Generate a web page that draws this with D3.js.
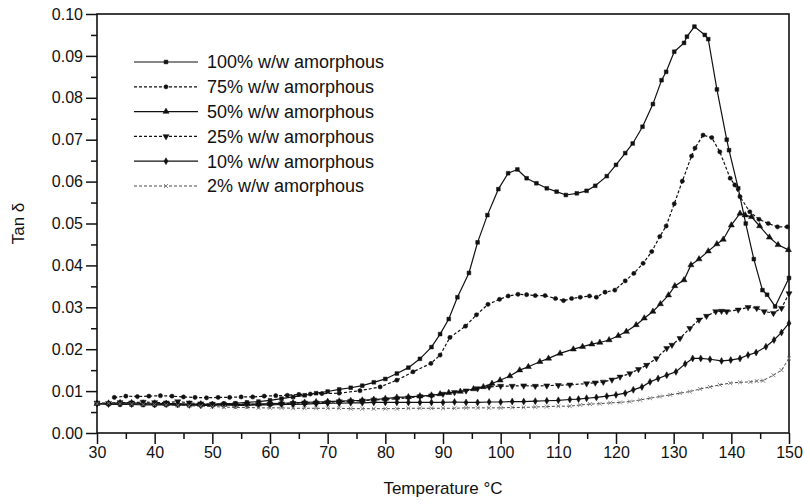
<!DOCTYPE html>
<html>
<head>
<meta charset="utf-8">
<script src="https://cdn.jsdelivr.net/npm/d3@7"></script>
<style>
    body { margin: 0; background: #fff; }
    svg text { font-family: "Liberation Sans", Arial, sans-serif; fill: #111; }
</style>
</head>
<body>
<div id="chart"></div>
<script>
// [temperature °C, tan delta]
const s100 = [[30,0.0070],[32,0.0069],[34,0.0068],[36,0.0068],[38,0.0067],[40,0.0067],[42,0.0067],[44,0.0067],[46,0.0067],[48,0.0068],[50,0.0069],[52,0.0070],[54,0.0071],[56,0.0073],[58,0.0075],[60,0.0078],[62,0.0082],[64,0.0086],[66,0.0090],[68,0.0095],[70,0.0099],[72,0.0104],[74,0.0108],[76,0.0113],[78,0.0121],[80,0.0129],[82,0.0142],[84,0.0156],[86,0.0177],[88,0.0205],[89.5,0.0236],[91,0.0272],[92.5,0.0324],[94.5,0.0382],[96,0.0455],[97.7,0.052],[99.6,0.0582],[101.3,0.062],[102.9,0.0629],[104.5,0.0608],[106.2,0.0596],[108,0.0584],[109.7,0.0576],[111.3,0.0568],[113.2,0.0572],[114.9,0.0578],[116.4,0.059],[118.4,0.0613],[120,0.064],[121.6,0.0668],[122.9,0.0691],[124.6,0.0731],[126.4,0.0785],[127.9,0.0842],[128.7,0.0862],[130.1,0.091],[131.8,0.0931],[132.3,0.0946],[133.6,0.097],[135.4,0.095],[136,0.094],[137.5,0.082],[139.2,0.070],[139.6,0.0675],[141.2,0.0584],[142.5,0.050],[143.9,0.0415],[145.4,0.0341],[146.2,0.033],[147.6,0.0302],[150,0.037]];
const s75 = [[33,0.0085],[35,0.0088],[37,0.0087],[39,0.0088],[41,0.0089],[43,0.0088],[45,0.0086],[47,0.0085],[49,0.0084],[51,0.0085],[53,0.0085],[55,0.0086],[57,0.0086],[59,0.0088],[61,0.0089],[63,0.0090],[65,0.0092],[67,0.0093],[69,0.0094],[72,0.0095],[75.6,0.0101],[79.1,0.0110],[82,0.0126],[84.8,0.0146],[87.9,0.0166],[89.5,0.0186],[91.2,0.0228],[93.9,0.0255],[95.8,0.0282],[97.8,0.0307],[99.8,0.0319],[101.3,0.0327],[103,0.0331],[104.5,0.0330],[106,0.0328],[107.7,0.0328],[109.5,0.0321],[110.9,0.0316],[112.3,0.0321],[113.8,0.0324],[115.4,0.0327],[116.6,0.0324],[118.1,0.0336],[119.8,0.0341],[121.6,0.0363],[123.1,0.0381],[124.7,0.0405],[126.2,0.0433],[127.6,0.0469],[128.7,0.0494],[130.1,0.0547],[131.5,0.0601],[133.1,0.0661],[133.7,0.068],[135.1,0.0711],[136.6,0.0705],[138,0.0671],[139.8,0.0608],[140.6,0.0592],[141.5,0.0564],[143.2,0.0528],[144.8,0.051],[146.4,0.050],[148,0.0492],[149.7,0.0492]];
const s50 = [[30,0.0070],[32,0.0071],[34,0.0072],[36,0.0072],[38,0.0071],[40,0.0071],[42,0.0070],[44,0.0070],[46,0.0069],[48,0.0069],[50,0.0068],[52,0.0068],[54,0.0068],[56,0.0069],[58,0.0069],[60,0.0070],[62,0.0071],[64,0.0072],[66,0.0073],[68,0.0074],[70,0.0075],[72,0.0076],[74,0.0077],[76,0.0078],[78,0.0080],[80,0.0082],[82,0.0085],[84,0.0086],[86,0.0088],[88,0.0090],[89.5,0.0093],[91,0.0096],[93,0.0099],[95.3,0.0105],[97,0.0110],[98.5,0.0118],[99.9,0.0126],[101.6,0.0136],[103.3,0.0150],[104.8,0.0158],[106.8,0.0170],[108.3,0.0178],[110.3,0.0190],[112.6,0.0200],[114.2,0.0206],[115.8,0.0212],[117.2,0.0216],[118.8,0.0222],[120.4,0.0232],[121.8,0.0242],[123.5,0.0258],[124.9,0.0274],[126.4,0.0290],[127.7,0.0308],[129.1,0.0329],[130.2,0.0351],[131.8,0.0365],[133,0.0401],[134.4,0.0415],[136,0.0434],[137.5,0.0451],[138.6,0.0462],[140,0.0496],[141.5,0.0524],[142.4,0.0520],[143.5,0.0516],[144.9,0.0494],[146.6,0.0467],[148.1,0.0449],[149.9,0.0437]];
const s25 = [[30,0.0072],[32,0.0071],[34,0.0073],[36,0.0072],[38,0.0074],[40,0.0073],[42,0.0072],[44,0.0075],[46,0.0072],[48,0.0070],[50,0.0069],[52,0.0068],[54,0.0068],[56,0.0069],[58,0.0068],[60,0.0069],[62,0.0070],[64,0.0071],[66,0.0072],[68,0.0072],[70,0.0073],[72,0.0075],[74,0.0076],[76,0.0077],[78,0.0079],[80,0.0080],[82,0.0082],[84,0.0084],[86,0.0087],[88,0.0089],[90,0.0093],[92,0.0097],[94,0.0101],[96,0.0106],[98,0.0110],[100,0.0112],[102,0.0112],[104,0.0113],[106,0.0112],[108,0.0113],[110,0.0114],[112,0.0115],[114.9,0.0118],[116.4,0.0120],[117.8,0.0122],[119.3,0.0127],[120.7,0.0134],[122.4,0.0142],[123.9,0.0152],[125.3,0.0162],[127,0.0178],[128.8,0.0202],[129.7,0.0210],[131.1,0.0226],[132.8,0.0250],[134.4,0.0270],[135.7,0.0279],[137.3,0.0290],[138.3,0.0291],[139.2,0.0290],[141.2,0.0294],[142.9,0.0300],[144.4,0.0298],[145.7,0.0290],[147.3,0.0286],[148.7,0.0298],[150,0.0333]];
const s10 = [[30,0.0070],[32,0.0069],[34,0.0070],[36,0.0069],[38,0.0070],[40,0.0068],[42,0.0069],[44,0.0068],[46,0.0067],[48,0.0066],[50,0.0066],[52,0.0067],[54,0.0066],[56,0.0066],[58,0.0067],[60,0.0067],[62,0.0068],[64,0.0068],[66,0.0069],[68,0.0070],[70,0.0071],[72,0.0071],[74,0.0072],[76,0.0072],[78,0.0073],[80,0.0073],[82,0.0073],[84,0.0073],[86,0.0073],[88,0.0073],[90,0.0073],[92,0.0074],[94,0.0073],[96,0.0073],[98,0.0074],[100,0.0074],[102,0.0075],[104,0.0075],[106,0.0076],[108,0.0077],[110,0.0078],[112,0.0080],[113.5,0.0081],[114.9,0.0083],[116.6,0.0085],[118.4,0.0088],[120,0.0091],[121.6,0.0095],[123,0.0103],[124.5,0.0110],[125.9,0.0122],[127.3,0.0130],[128.8,0.0138],[130.4,0.0146],[132,0.0165],[133.3,0.0178],[134.7,0.0178],[136.3,0.0176],[138.3,0.0172],[139.9,0.0174],[141.5,0.0178],[142.9,0.0186],[144.3,0.0192],[146,0.0206],[147.4,0.0222],[148.7,0.0240],[150,0.0262]];
const s2 = [[30,0.0070],[32,0.0071],[34,0.0070],[36,0.0069],[38,0.0068],[40,0.0068],[42,0.0067],[44,0.0066],[46,0.0065],[48,0.0064],[50,0.0063],[52,0.0062],[54,0.0061],[56,0.0061],[58,0.0060],[60,0.0060],[62,0.0060],[64,0.0059],[66,0.0059],[68,0.0059],[70,0.0059],[72,0.0059],[74,0.0058],[76,0.0058],[78,0.0058],[80,0.0058],[82,0.0058],[84,0.0059],[86,0.0059],[88,0.0059],[90,0.0059],[92,0.0059],[94,0.0060],[96,0.0060],[98,0.0060],[100,0.0060],[102,0.0061],[104,0.0061],[106,0.0062],[108,0.0063],[110,0.0064],[112,0.0064],[113.8,0.0067],[115.5,0.0069],[117.2,0.0070],[119,0.0072],[120.7,0.0073],[122.4,0.0075],[124.2,0.0079],[125.9,0.0083],[127.6,0.0087],[129.4,0.0091],[131.1,0.0095],[132.8,0.0099],[134.6,0.0105],[136.3,0.0110],[138,0.0115],[139.8,0.0119],[141.5,0.0121],[143.3,0.0122],[144.4,0.0124],[145.5,0.0125],[147.3,0.0138],[148.7,0.0150],[150,0.0178]];

const seriesNames = ["100% w/w amorphous", "75% w/w amorphous", "50% w/w amorphous", "25% w/w amorphous", "10% w/w amorphous", "2% w/w amorphous"];
const seriesData = [s100, s75, s50, s25, s10, s2];
const xTicks = [30, 40, 50, 60, 70, 80, 90, 100, 110, 120, 130, 140, 150];
const yTicks = [0, 0.01, 0.02, 0.03, 0.04, 0.05, 0.06, 0.07, 0.08, 0.09, 0.10];

const styles = [
    { dash: null, symbol: d3.symbolSquare, size: 14, rotate: 0, color: "#111", marker: "#111" },
    { dash: "3,2", symbol: d3.symbolCircle, size: 14, rotate: 0, color: "#111", marker: "#111" },
    { dash: null, symbol: d3.symbolTriangle, size: 16, rotate: 0, color: "#111", marker: "#111" },
    { dash: "3,2", symbol: d3.symbolTriangle, size: 16, rotate: 180, color: "#111", marker: "#111" },
    { dash: null, symbol: d3.symbolDiamond, size: 14, rotate: 0, color: "#111", marker: "#111" },
    { dash: "3,2", symbol: d3.symbolX, size: 12, rotate: 0, color: "#333", marker: "#777" }
];

const width = 810;
const height = 504;
const margin = { top: 14, right: 21, bottom: 71, left: 97 };

const svg = d3.select("#chart")
    .append("svg")
    .attr("width", width)
    .attr("height", height);

const x = d3.scaleLinear().domain([30, 150]).range([margin.left, width - margin.right]);
const y = d3.scaleLinear().domain([0, 0.10]).range([height - margin.bottom, margin.top]);

// minor ticks
const xMinor = d3.range(35, 150, 10);
const yMinor = d3.range(0.005, 0.1, 0.01);

svg.append("g")
    .attr("transform", `translate(0,${y(0)})`)
    .call(d3.axisBottom(x).tickValues(xMinor).tickSize(6).tickFormat(""))
    .call(g => g.select(".domain").remove());
svg.append("g")
    .attr("transform", `translate(${x(30)},0)`)
    .call(d3.axisLeft(y).tickValues(yMinor).tickSize(6).tickFormat(""))
    .call(g => g.select(".domain").remove());

const xAxis = svg.append("g")
    .attr("transform", `translate(0,${y(0)})`)
    .call(d3.axisBottom(x).tickValues(xTicks).tickSize(11).tickPadding(3).tickFormat(d3.format("d")));
xAxis.select(".domain").remove();
xAxis.selectAll("text").style("font-size", "16px");

const yAxis = svg.append("g")
    .attr("transform", `translate(${x(30)},0)`)
    .call(d3.axisLeft(y).tickValues(yTicks).tickSize(11).tickPadding(3).tickFormat(d3.format(".2f")));
yAxis.select(".domain").remove();
yAxis.selectAll("text").style("font-size", "16px");

svg.selectAll(".tick line").attr("stroke", "#111").attr("stroke-width", 1.5);

// frame
svg.append("rect")
    .attr("x", x(30))
    .attr("y", y(0.10))
    .attr("width", x(150) - x(30))
    .attr("height", y(0) - y(0.10))
    .attr("fill", "none")
    .attr("stroke", "#111")
    .attr("stroke-width", 1.6);

// axis titles
svg.append("text")
    .attr("x", (x(30) + x(150)) / 2)
    .attr("y", 494)
    .attr("text-anchor", "middle")
    .style("font-size", "17px")
    .text("Temperature °C");

svg.append("text")
    .attr("transform", `translate(24,${(y(0) + y(0.1)) / 2}) rotate(-90)`)
    .attr("text-anchor", "middle")
    .style("font-size", "17px")
    .text("Tan δ");

const line = d3.line()
    .x(d => x(d[0]))
    .y(d => y(d[1]));

const plot = svg.append("g");

seriesData.forEach((data, i) => {
    const st = styles[i];
    plot.append("path")
        .datum(data)
        .attr("fill", "none")
        .attr("stroke", st.color)
        .attr("stroke-width", i === 5 ? 0.9 : 1.2)
        .attr("stroke-dasharray", st.dash)
        .attr("d", line);

    const sym = d3.symbol().type(st.symbol).size(st.size);
    plot.selectAll(null)
        .data(data)
        .enter()
        .append("path")
        .attr("d", sym)
        .attr("transform", d => `translate(${x(d[0])},${y(d[1])}) rotate(${st.rotate})`)
        .attr("fill", i === 5 ? "none" : st.marker)
        .attr("stroke", st.marker)
        .attr("stroke-width", i === 5 ? 0.9 : 0.5);
});

// legend
const legend = svg.append("g");
seriesNames.forEach((name, i) => {
    const st = styles[i];
    const ly = 62 + i * 24.8;
    legend.append("line")
        .attr("x1", 134).attr("x2", 198)
        .attr("y1", ly).attr("y2", ly)
        .attr("stroke", st.color)
        .attr("stroke-width", i === 5 ? 0.9 : 1.2)
        .attr("stroke-dasharray", st.dash);
    legend.append("path")
        .attr("d", d3.symbol().type(st.symbol).size(st.size))
        .attr("transform", `translate(166,${ly}) rotate(${st.rotate})`)
        .attr("fill", i === 5 ? "none" : st.marker)
        .attr("stroke", st.marker)
        .attr("stroke-width", i === 5 ? 0.9 : 0.5);
    legend.append("text")
        .attr("x", 207)
        .attr("y", ly)
        .attr("dy", "0.35em")
        .style("font-size", "18px")
        .text(name);
});
</script>
</body>
</html>
